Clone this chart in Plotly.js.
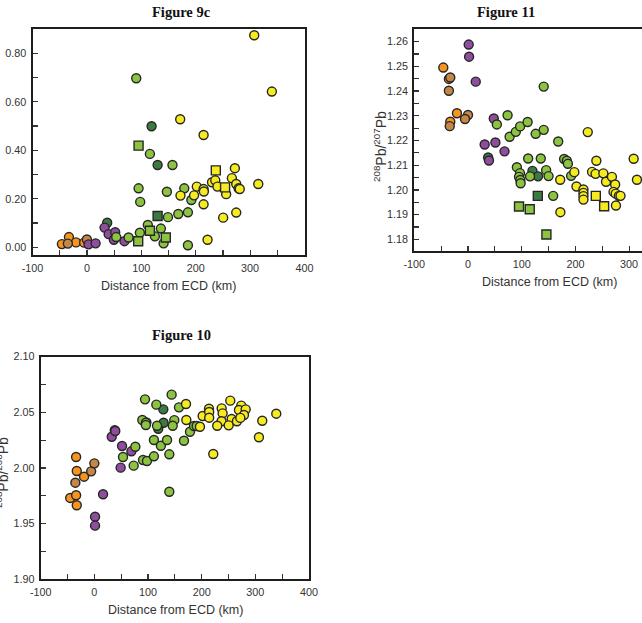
<!DOCTYPE html>
<html>
<head>
<meta charset="utf-8">
<script src="https://cdn.plot.ly/plotly-3.0.1.min.js"></script>
<style>
  html, body { margin: 0; padding: 0; background: #fff; }
  #chart { width: 642px; height: 623px; }
</style>
</head>
<body>
<div id="chart"></div>
<script>
// ---- Figure 9c: ratio vs distance from ECD ----
const fig9cDist = [
  -46, -33, -20, -5,
  -35, 0,
  3, 16, 32.5, 40, 52, 49.6, 69,
  37.3, 118.9, 130,
  130,
  90.7, 115.8, 157.3, 95, 98, 147, 149, 179, 192, 168, 185.7, 185.7, 53.9, 76.6, 97.4, 112, 125, 136, 141,
  95, 94.3, 115.8, 145,
  307.6, 340, 171.5, 214.5, 272, 266.5, 315, 230, 236, 240, 256, 274.5, 278.8, 281, 202, 197, 214.5, 215, 214.5, 172, 250.5, 274.5, 221.8,
  237, 254
];
const fig9cValue = [
  0.013, 0.042, 0.020, 0.019,
  0.015, 0.032,
  0.012, 0.016, 0.081, 0.054, 0.062, 0.031, 0.025,
  0.101, 0.499, 0.339,
  0.129,
  0.697, 0.385, 0.339, 0.243, 0.187, 0.229, 0.124, 0.243, 0.195, 0.137, 0.144, 0.008, 0.042, 0.040, 0.060, 0.092, 0.045, 0.077, 0.016,
  0.419, 0.025, 0.068, 0.040,
  0.874, 0.642, 0.528, 0.463, 0.326, 0.285, 0.261, 0.268, 0.276, 0.250, 0.219, 0.261, 0.243, 0.240, 0.250, 0.214, 0.240, 0.230, 0.177, 0.213, 0.122, 0.143, 0.031,
  0.317, 0.247
];
const fig9cGroup = [
  'orange', 'orange', 'orange', 'orange',
  'tan', 'tan',
  'purple', 'purple', 'purple', 'purple', 'purple', 'purple', 'purple',
  'dkgreen', 'dkgreen', 'dkgreen',
  'dkgreen-sq',
  'green', 'green', 'green', 'green', 'green', 'green', 'green', 'green', 'green', 'green', 'green', 'green', 'green', 'green', 'green', 'green', 'green', 'green', 'green',
  'green-sq', 'green-sq', 'green-sq', 'green-sq',
  'yellow', 'yellow', 'yellow', 'yellow', 'yellow', 'yellow', 'yellow', 'yellow', 'yellow', 'yellow', 'yellow', 'yellow', 'yellow', 'yellow', 'yellow', 'yellow', 'yellow', 'yellow', 'yellow', 'yellow', 'yellow', 'yellow', 'yellow',
  'yellow-sq', 'yellow-sq'
];

// ---- Figure 11: 208Pb/207Pb vs distance from ECD ----
const fig11Dist = [
  -46, -35.6, -20.6, -33,
  -33, -35.6, 0, -5.6, -34,
  1.3, 2, 14.4, 48, 31, 51, 68, 39,
  37.5, 120, 130.5,
  130,
  141, 53.7, 73.7, 77.5, 89, 97, 111, 126, 141, 168, 91, 96.8, 95, 97.4, 98, 112, 135.5, 115.5, 145.5, 150, 179, 184, 186, 192, 158.6,
  95, 115, 146,
  223, 198, 171.7, 172, 202, 215, 215, 215, 215, 239, 231, 237.5, 252, 257, 268, 274, 271, 275, 281, 284, 275.5, 308.5, 314.6,
  238, 253.5
];
const fig11Ratio = [
  1.2495, 1.2449, 1.2310, 1.2276,
  1.2455, 1.2401, 1.2303, 1.2287, 1.2258,
  1.2588, 1.2539, 1.2438, 1.2289, 1.2184, 1.2192, 1.2156, 1.2119,
  1.2131, 1.2077, 1.2055,
  1.1976,
  1.2418, 1.2265, 1.2302, 1.2215, 1.2235, 1.2257, 1.2275, 1.2227, 1.2243, 1.2196, 1.2092, 1.2068, 1.2053, 1.2040, 1.2027, 1.2127, 1.2127, 1.2055, 1.2080, 1.2056, 1.2125, 1.2118, 1.2106, 1.2057, 1.1976,
  1.1933, 1.1922, 1.1820,
  1.2234, 1.2072, 1.2041, 1.1910, 1.2014, 1.2002, 1.1988, 1.1975, 1.1961, 1.2118, 1.2073, 1.2065, 1.2067, 1.2033, 1.2053, 1.2022, 1.1992, 1.1985, 1.1976, 1.1976, 1.1937, 1.2126, 1.2041,
  1.1976, 1.1934
];
const fig11Group = [
  'orange', 'orange', 'orange', 'orange',
  'tan', 'tan', 'tan', 'tan', 'tan',
  'purple', 'purple', 'purple', 'purple', 'purple', 'purple', 'purple', 'purple',
  'dkgreen', 'dkgreen', 'dkgreen',
  'dkgreen-sq',
  'green', 'green', 'green', 'green', 'green', 'green', 'green', 'green', 'green', 'green', 'green', 'green', 'green', 'green', 'green', 'green', 'green', 'green', 'green', 'green', 'green', 'green', 'green', 'green', 'green',
  'green-sq', 'green-sq', 'green-sq',
  'yellow', 'yellow', 'yellow', 'yellow', 'yellow', 'yellow', 'yellow', 'yellow', 'yellow', 'yellow', 'yellow', 'yellow', 'yellow', 'yellow', 'yellow', 'yellow', 'yellow', 'yellow', 'yellow', 'yellow', 'yellow', 'yellow', 'yellow',
  'yellow-sq', 'yellow-sq'
];

// ---- Figure 10: 208Pb/206Pb vs distance from ECD ----
const fig10Dist = [
  -34, -32.8, -19.2, -45, -34, -32.8,
  -35.4, -6, 0,
  38, 119, 128.5, 129, 97,
  1.3, 1.3, 16.2, 32.4, 39, 51.6, 49, 69,
  53.4, 76.4, 73.3, 94.4, 89.4, 96, 96, 90.7, 98, 115.5, 116.8, 111, 111, 124, 135.4, 144, 149, 146, 139.7, 139.7, 157.7, 167, 178.2, 185.7, 190.6,
  170.8, 171.4, 196.8, 201.8, 213.6, 214, 214, 221.6, 237.2, 239, 237, 229, 253.3, 255.8, 250.3, 265.7, 273.8, 269.5, 282, 278.8, 272, 306.7, 312.9, 339
];
const fig10Ratio = [
  2.0099, 1.9973, 1.9922, 1.9731, 1.9755, 1.9665,
  1.9868, 1.9970, 2.0042,
  2.0340, 2.0353, 2.0527, 2.0407, 2.0410,
  1.9562, 1.9482, 1.9764, 2.0281, 2.0332, 2.0198, 2.0003, 2.0150,
  2.0099, 2.0191, 2.0021, 2.0617, 2.0431, 2.0407, 2.0386, 2.0072, 2.0063, 2.0569, 2.0380, 2.0252, 2.0105, 2.0200, 2.0252, 2.0659, 2.0430, 2.0380, 2.0123, 1.9787, 2.0545, 2.0245, 2.0326, 2.0377, 2.0377,
  2.0575, 2.0431, 2.0371, 2.0467, 2.0533, 2.0503, 2.0452, 2.0126, 2.0536, 2.0491, 2.0420, 2.0380, 2.0605, 2.0440, 2.0383, 2.0420, 2.0560, 2.0521, 2.0527, 2.0476, 2.0450, 2.0276, 2.0425, 2.0488
];
const fig10Group = [
  'orange', 'orange', 'orange', 'orange', 'orange', 'orange',
  'tan', 'tan', 'tan',
  'dkgreen', 'dkgreen', 'dkgreen', 'dkgreen', 'dkgreen',
  'purple', 'purple', 'purple', 'purple', 'purple', 'purple', 'purple', 'purple',
  'green', 'green', 'green', 'green', 'green', 'green', 'green', 'green', 'green', 'green', 'green', 'green', 'green', 'green', 'green', 'green', 'green', 'green', 'green', 'green', 'green', 'green', 'green', 'green', 'green',
  'yellow', 'yellow', 'yellow', 'yellow', 'yellow', 'yellow', 'yellow', 'yellow', 'yellow', 'yellow', 'yellow', 'yellow', 'yellow', 'yellow', 'yellow', 'yellow', 'yellow', 'yellow', 'yellow', 'yellow', 'yellow', 'yellow', 'yellow', 'yellow'
];

// Distance tick positions and their labels (plain hyphen for negatives)
const distTicks = [-100, 0, 100, 200, 300, 400];
const distTickText = ['-100', '0', '100', '200', '300', '400'];

// Marker look for each sample group, in drawing order
const groupStyle = {
  'orange':     { color: '#f7941e', symbol: 'circle' },
  'tan':        { color: '#c48748', symbol: 'circle' },
  'dkgreen':    { color: '#3c7a42', symbol: 'circle' },
  'purple':     { color: '#8f4e9d', symbol: 'circle' },
  'green':      { color: '#8cc43f', symbol: 'circle' },
  'yellow':     { color: '#f5eb1e', symbol: 'circle' },
  'green-sq':   { color: '#8cc43f', symbol: 'square' },
  'dkgreen-sq': { color: '#3c7a42', symbol: 'square' },
  'yellow-sq':  { color: '#f5eb1e', symbol: 'square' }
};

function scatterTraces(xs, ys, groups, xa, ya) {
  return Object.keys(groupStyle).map(function (g) {
    const idx = groups.map(function (v, i) { return v === g ? i : -1; }).filter(function (i) { return i >= 0; });
    return {
      type: 'scatter', mode: 'markers', xaxis: xa, yaxis: ya, showlegend: false,
      x: idx.map(function (i) { return xs[i]; }),
      y: idx.map(function (i) { return ys[i]; }),
      marker: {
        size: 9, symbol: groupStyle[g].symbol, color: groupStyle[g].color,
        line: { color: '#262626', width: 1.4 }
      },
      hoverinfo: 'x+y'
    };
  }).filter(function (t) { return t.x.length > 0; });
}

const data = []
  .concat(scatterTraces(fig9cDist, fig9cValue, fig9cGroup, 'x', 'y'))
  .concat(scatterTraces(fig11Dist, fig11Ratio, fig11Group, 'x2', 'y2'))
  .concat(scatterTraces(fig10Dist, fig10Ratio, fig10Group, 'x3', 'y3'));

const W = 642, H = 623;
const sans = 'Liberation Sans, Arial, sans-serif';
const serif = 'Liberation Serif, Times New Roman, serif';
const tickFont = { family: sans, size: 10.8, color: '#333' };

function axis(extra) {
  return Object.assign({
    showline: true, linecolor: '#1e1e1e', linewidth: 2, mirror: true,
    ticks: 'inside', ticklen: 5, tickwidth: 1.2, tickcolor: '#333',
    showgrid: false, zeroline: false, tickfont: tickFont, ticklabelstandoff: 2,
    fixedrange: true
  }, extra);
}
function minor(d) {
  return { dtick: d, ticks: 'inside', ticklen: 5, tickwidth: 1.2, tickcolor: '#333', showgrid: false };
}
function distAxis(extra) {
  return axis(Object.assign({ tickmode: 'array', tickvals: distTicks, ticktext: distTickText, minor: minor(50) }, extra));
}
// pixel helpers for paper coordinates
function px(v) { return v / W; }
function py(v) { return 1 - v / H; }

const layout = {
  width: W, height: H,
  margin: { l: 0, r: 0, t: 0, b: 0 },
  paper_bgcolor: '#fff', plot_bgcolor: '#fff',
  showlegend: false,
  xaxis: distAxis({ domain: [px(32.5), px(304.5)], range: [-100, 400], anchor: 'y' }),
  yaxis: axis({ domain: [py(255), py(29)], range: [-0.032, 0.90], dtick: 0.2, tick0: 0, tickformat: '.2f', minor: minor(0.1), anchor: 'x' }),
  xaxis2: distAxis({ domain: [px(414.3), 1], range: [-100, 324], anchor: 'y2' }),
  yaxis2: axis({ domain: [py(251), py(29)], range: [1.1753, 1.2651], dtick: 0.01, tick0: 1.18, tickformat: '.2f', minor: minor(0.005), anchor: 'x2', mirror: false }),
  xaxis3: distAxis({ domain: [px(40.7), px(309)], range: [-100, 400], anchor: 'y3' }),
  yaxis3: axis({ domain: [py(579.3), py(356.7)], range: [1.90, 2.10], dtick: 0.05, tick0: 1.9, tickformat: '.2f', minor: minor(0.025), anchor: 'x3' }),
  annotations: [
    { text: '<b>Figure 9c</b>', x: px(182), y: py(12), xref: 'paper', yref: 'paper', showarrow: false, xanchor: 'center', yanchor: 'middle', font: { family: serif, size: 14.5, color: '#111' } },
    { text: '<b>Figure 11</b>', x: px(506), y: py(12), xref: 'paper', yref: 'paper', showarrow: false, xanchor: 'center', yanchor: 'middle', font: { family: serif, size: 14.5, color: '#111' } },
    { text: '<b>Figure 10</b>', x: px(182), y: py(335), xref: 'paper', yref: 'paper', showarrow: false, xanchor: 'center', yanchor: 'middle', font: { family: serif, size: 14.5, color: '#111' } },
    { text: 'Distance from ECD (km)', x: px(169), y: py(286), xref: 'paper', yref: 'paper', showarrow: false, xanchor: 'center', yanchor: 'middle', font: { family: sans, size: 12.5, color: '#333' } },
    { text: 'Distance from ECD (km)', x: px(549), y: py(282), xref: 'paper', yref: 'paper', showarrow: false, xanchor: 'center', yanchor: 'middle', font: { family: sans, size: 12.5, color: '#333' } },
    { text: 'Distance from ECD (km)', x: px(176), y: py(610), xref: 'paper', yref: 'paper', showarrow: false, xanchor: 'center', yanchor: 'middle', font: { family: sans, size: 12.5, color: '#333' } },
    { text: '<sup>208</sup>Pb/<sup>207</sup>Pb', x: px(380), y: py(146), xref: 'paper', yref: 'paper', showarrow: false, textangle: -90, xanchor: 'center', yanchor: 'middle', font: { family: sans, size: 14, color: '#333' } },
    { text: '<sup>208</sup>Pb/<sup>206</sup>Pb', x: px(2), y: py(473), xref: 'paper', yref: 'paper', showarrow: false, textangle: -90, xanchor: 'center', yanchor: 'middle', font: { family: sans, size: 14, color: '#333' } }
  ]
};

Plotly.newPlot('chart', data, layout, { staticPlot: true, displayModeBar: false });
</script>
</body>
</html>
